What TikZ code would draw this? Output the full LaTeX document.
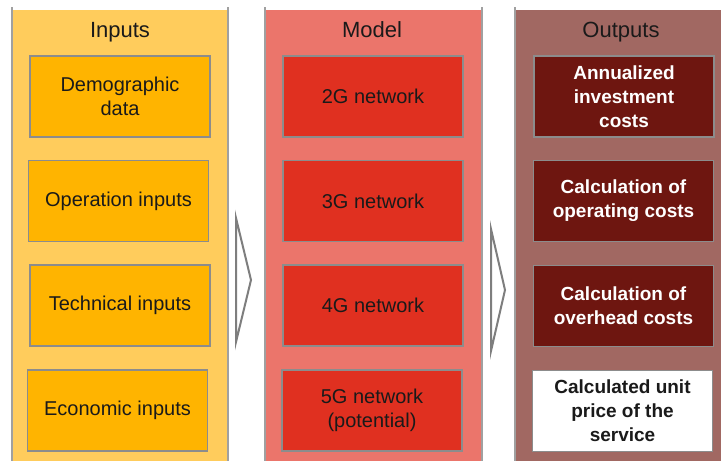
\documentclass[tikz,border=0pt]{standalone}
\usepackage{fontspec}
\setmainfont{Liberation Sans}
\definecolor{inpanel}{RGB}{255,204,92}
\definecolor{inbox}{RGB}{255,180,0}
\definecolor{mdpanel}{RGB}{235,117,107}
\definecolor{mdbox}{RGB}{224,48,32}
\definecolor{outpanel}{RGB}{161,104,98}
\definecolor{outbox}{RGB}{110,22,16}
\definecolor{edge}{RGB}{140,140,140}
\definecolor{panedge}{RGB}{160,160,160}
\definecolor{ink}{RGB}{26,26,26}
\tikzset{
  cell/.style={draw=edge, line width=1.6pt, minimum width=180pt, minimum height=81pt,
    align=center, inner sep=0pt, text=ink, font=\fontsize{20}{24}\selectfont},
  incell/.style={cell, fill=inbox},
  mdcell/.style={cell, fill=mdbox},
  outcell/.style={cell, fill=outbox, text=white, font=\fontsize{19}{24}\selectfont\bfseries},
  rescell/.style={cell, fill=white, text=ink, font=\fontsize{19}{24}\selectfont\bfseries},
  heading/.style={text=ink, font=\fontsize{22}{26}\selectfont, inner sep=0pt, anchor=base},
  sideline/.style={draw=panedge, line width=1.4pt},
  chevron/.style={draw=edge!90!black, line width=2pt, fill=white, line join=miter}
}
\begin{document}
\begin{tikzpicture}[x=1pt, y=-1pt]
\useasboundingbox (0,0) rectangle (721,461);
\fill[white] (0,0) rectangle (721,461);

% column backgrounds
\fill[inpanel] (12,10) rectangle (228,461);
\draw[sideline] (12,7) -- (12,461) (228,7) -- (228,461);
\fill[mdpanel] (265,10) rectangle (482,461);
\draw[sideline] (265,7) -- (265,461) (482,7) -- (482,461);
\fill[outpanel] (515,10) rectangle (721,461);
\draw[sideline] (515,7) -- (515,461);

% column headings
\node[heading] (hin) at (120,37) {Inputs};
\node[heading] (hmd) at (372,37) {Model};
\node[heading] (hout) at (621,37) {Outputs};

% inputs
\node[incell] (demo) at (120,96.5) {Demographic\\data};
\node[incell] (oper) at (118.5,201) {Operation inputs};
\node[incell] (tech) at (120,305.5) {Technical inputs};
\node[incell] (econ) at (117.5,410.5) {Economic inputs};

% model
\node[mdcell] (g2) at (373,96.5) {2G network};
\node[mdcell] (g3) at (373,201) {3G network};
\node[mdcell] (g4) at (373,305.5) {4G network};
\node[mdcell] (g5) at (372,410.5) {5G network\\(potential)};

% outputs
\node[outcell] (inv) at (624,96.5) {Annualized\\investment\\costs};
\node[outcell] (opc) at (623.5,201) {Calculation of\\operating costs};
\node[outcell] (ovh) at (623.5,306) {Calculation of\\overhead costs};
\node[rescell] (price) at (622.5,411) {Calculated unit\\price of the\\service};

% flow chevrons between columns
\draw[chevron] (236,218) -- (251,280) -- (236,342) -- cycle;
\draw[chevron] (491,229) -- (505,290) -- (491,351) -- cycle;
\end{tikzpicture}
\end{document}
